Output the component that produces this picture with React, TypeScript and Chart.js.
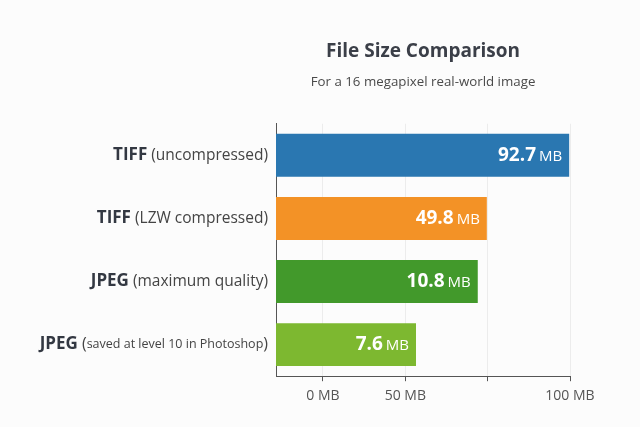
import React, { useEffect, useRef } from "react";
import { Chart, registerables } from "chart.js";

Chart.register(...registerables);

// Categories: each label has a bold format name and a normal-weight description.
const formatNames = ["TIFF", "TIFF", "JPEG", "JPEG"];
const formatNotes = [" (uncompressed)", " (LZW compressed)", " (maximum quality)", " (saved at level 10 in Photoshop)"];
// Printed file sizes (MB), as written in the bars.
const fileSizesMB = [92.7, 49.8, 10.8, 7.6];
// Bar lengths as drawn in the reference, read against its axis ticks (tick units).
// The reference bars are not drawn to scale of the printed numbers.
const barLengths = [2.99, 1.99, 1.88, 1.13];
// Axis range and ticks (tick units) and their printed labels.
const axisMin = -0.57;
const axisMax = 3;
const xTickValues = [0, 1, 2, 3];
const xTickLabels = ["0 MB", "50 MB", "", "100 MB"];
const barColors = ["#2a77b1", "#f39226", "#42992b", "#7db830"];

const FONT = "'Open Sans', 'Noto Sans', sans-serif";

export default function App() {
  const ref = useRef<HTMLCanvasElement | null>(null);
  useEffect(() => {
    if (!ref.current) return;
    const labelsPlugin = {
      id: "customLabels",
      afterDatasetsDraw(chart: any) {
        const ctx = chart.ctx;
        const yScale = chart.scales.y;
        const area = chart.chartArea;
        ctx.save();
        ctx.textBaseline = "middle";
        formatNames.forEach((name, i) => {
          const y = yScale.getPixelForValue(i);
          let x = area.left - 8;
          const small = i === 3;
          const parts: { t: string; f: string; c: string }[] = [];
          if (small) {
            parts.push({ t: " (", f: `400 16px ${FONT}`, c: "#444" });
            parts.push({ t: "saved at level 10 in Photoshop", f: `400 12.5px ${FONT}`, c: "#444" });
            parts.push({ t: ")", f: `400 16px ${FONT}`, c: "#444" });
          } else {
            parts.push({ t: formatNotes[i], f: `400 15.5px ${FONT}`, c: "#444" });
          }
          const all = [{ t: name, f: `700 17px ${FONT}`, c: "#333842" }, ...parts];
          ctx.textAlign = "right";
          for (let k = all.length - 1; k >= 0; k--) {
            ctx.font = all[k].f;
            ctx.fillStyle = all[k].c;
            ctx.fillText(all[k].t, x, y);
            x -= ctx.measureText(all[k].t).width;
          }
        });
        const meta = chart.getDatasetMeta(0);
        meta.data.forEach((el: any, i: number) => {
          let x = el.x - 7;
          const y = el.y;
          ctx.fillStyle = "#ffffff";
          ctx.textAlign = "right";
          ctx.font = `400 15px ${FONT}`;
          ctx.fillText("MB", x, y + 1);
          x -= ctx.measureText("MB").width + 3;
          ctx.font = `700 19px ${FONT}`;
          ctx.fillText(fileSizesMB[i].toFixed(1), x, y);
        });
        ctx.restore();
      },
    };

    const chart = new Chart(ref.current, {
      type: "bar",
      data: {
        labels: formatNames.map((n, i) => n + formatNotes[i]),
        datasets: [
          {
            data: barLengths,
            base: axisMin,
            backgroundColor: barColors,
            borderWidth: 0,
            barPercentage: 0.68,
            categoryPercentage: 1,
          } as any,
        ],
      },
      options: {
        indexAxis: "y",
        animation: false,
        responsive: false,
        layout: { padding: { left: 276, right: 70, top: 0, bottom: 17 } },
        plugins: {
          legend: { display: false },
          tooltip: { enabled: false },
          title: {
            display: true,
            text: "File Size Comparison",
            color: "#3b3f48",
            font: { family: FONT, size: 19, weight: "bold" },
            padding: { top: 40, bottom: 0 },
          },
          subtitle: {
            display: true,
            text: "For a 16 megapixel real-world image",
            color: "#4a4a4a",
            font: { family: FONT, size: 13.3, weight: "normal" },
            padding: { top: 11, bottom: 34 },
          },
        },
        scales: {
          x: {
            type: "linear",
            min: axisMin,
            max: axisMax,
            afterBuildTicks: (scale: any) => {
              scale.ticks = xTickValues.map((v) => ({ value: v }));
            },
            ticks: {
              color: "#555",
              font: { family: FONT, size: 14 },
              padding: 6,
              callback: (v: any) => xTickLabels[xTickValues.indexOf(Number(v))] ?? "",
            },
            grid: { color: "#ececec", tickColor: "#555", tickLength: 5 },
            border: { display: true, color: "#555", width: 1 },
          },
          y: {
            type: "category",
            ticks: { display: false },
            grid: { display: false, drawTicks: false },
            border: { display: true, color: "#555", width: 1 },
          },
        },
      },
      plugins: [labelsPlugin],
    });
    return () => chart.destroy();
  }, []);

  return (
    <div style={{ position: "fixed", left: 0, top: 0, width: 640, height: 427, background: "#fcfcfc" }}>
      <canvas ref={ref} width={640} height={427} style={{ width: 640, height: 427 }} />
    </div>
  );
}
